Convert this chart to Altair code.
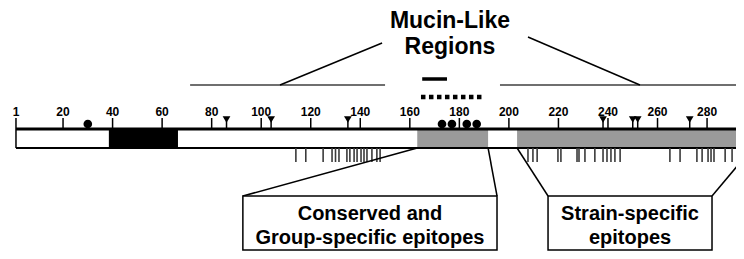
import altair as alt
import pandas as pd

# ---- data (residue positions) ----
tick_labels = [1, 20, 40, 60, 80, 100, 120, 140, 160, 180, 200, 220, 240, 260, 280]
circle_pos = [30, 173, 177, 183, 187]
triangle_pos = [86, 104, 135, 238, 250, 252, 273, 294]
epitope_pos = [114, 118, 125, 128.6, 130, 131.4, 134.6, 135.8, 137.5, 138.7, 140.3,
               141.5, 142.7, 144.7, 146.7, 148,
               207.7, 209.7, 211.4, 219.8, 221.0, 227.5, 228.3, 230.7, 234.7, 238.0,
               239.6, 241.2, 242.8, 244.9, 265.0, 269.1, 275.9, 278.0, 280.4, 281.6,
               282.8, 287.3, 290.1, 292.1]
black_start = [38.5]
black_end = [66.4]
grey_start = [163, 203.3]
grey_end = [191.6, 300]
protein_start = [1]
protein_end = [300]
mucin_solid = [165, 175]
mucin_dotted = [164.5, 190]
bracket_start = [71.3, 196.4]
bracket_end = [150, 300]
mucin_text = ["Mucin-Like", "Regions"]
box_start = [92.6, 215.8]
box_end = [195.2, 282.0]
box_text_1 = ["Conserved and", "Group-specific epitopes"]
box_text_2 = ["Strain-specific", "epitopes"]

# ---- layout (page-pixel units on the y axis) ----
W, H = 728, 243
px_per_res = 2.477
x0 = -5.5 / px_per_res
x1 = (W - 5.5) / px_per_res
xs = alt.Scale(domain=[x0, x1], nice=False, zero=False)
ys = alt.Scale(domain=[8, 8 + H], reverse=True, nice=False, zero=False)
FONT = "Liberation Sans"

Y_TOP, Y_BOT = 129, 148
BOX_TOP, BOX_BOT = 196, 250


def X(f="x"):
    return alt.X(f"{f}:Q", scale=xs, axis=None)


def Y(f="y"):
    return alt.Y(f"{f}:Q", scale=ys, axis=None)


layers = []

# grey regions
grey_df = pd.DataFrame({"x": grey_start, "x2": grey_end, "y": Y_TOP, "y2": Y_BOT})
layers.append(alt.Chart(grey_df).mark_rect(color="#9a9a9a", clip=True).encode(
    x=X(), x2="x2", y=Y(), y2="y2"))
# black region
blk_df = pd.DataFrame({"x": black_start, "x2": black_end, "y": Y_TOP, "y2": Y_BOT})
layers.append(alt.Chart(blk_df).mark_rect(color="black", clip=True).encode(
    x=X(), x2="x2", y=Y(), y2="y2"))
# outline of protein bar
pr_df = pd.DataFrame({"x": protein_start * 2, "x2": protein_end * 2,
                      "y": [Y_TOP, Y_BOT], "w": [3, 2]})
layers.append(alt.Chart(pr_df).mark_rule(color="black", clip=True).encode(
    x=X(), x2="x2", y=Y(),
    strokeWidth=alt.StrokeWidth("w:Q", scale=None, legend=None)))

# scale ticks & labels
tk = pd.DataFrame({"x": tick_labels,
                   "y": 118,
                   "y2": [Y_BOT if v == 1 else Y_TOP for v in tick_labels],
                   "lab": [str(v) for v in tick_labels]})
layers.append(alt.Chart(tk).mark_rule(color="black", strokeWidth=1.5, clip=True).encode(
    x=X(), y=Y(), y2="y2"))
layers.append(alt.Chart(tk).mark_text(font=FONT, fontSize=12, fontWeight="bold",
                                      baseline="bottom", dy=1, clip=True).encode(
    x=X(), y=Y(), text="lab:N"))

# epitope ticks below bar
ep = pd.DataFrame({"x": epitope_pos, "y": Y_BOT, "y2": 162})
layers.append(alt.Chart(ep).mark_rule(color="#3a3a3a", strokeWidth=1.6, clip=True).encode(
    x=X(), y=Y(), y2="y2"))

# triangles with stems
tr = pd.DataFrame({"x": triangle_pos, "y": 119.5, "ys": 121, "y2": Y_TOP})
layers.append(alt.Chart(tr).mark_rule(color="black", strokeWidth=1.5, clip=True).encode(
    x=X(), y=Y("ys"), y2="y2"))
layers.append(alt.Chart(tr).mark_point(shape="triangle-down", filled=True, color="black",
                                       size=60, opacity=1, clip=True).encode(
    x=X(), y=Y()))

# circles
ci = pd.DataFrame({"x": circle_pos, "y": 124})
layers.append(alt.Chart(ci).mark_circle(color="black", size=75, opacity=1, clip=True).encode(
    x=X(), y=Y()))

# mucin-like region markers
ms = pd.DataFrame({"x": [mucin_solid[0]], "x2": [mucin_solid[1]], "y": [79]})
layers.append(alt.Chart(ms).mark_rule(color="black", strokeWidth=3.5).encode(
    x=X(), x2="x2", y=Y()))
md = pd.DataFrame({"x": [mucin_dotted[0]], "x2": [mucin_dotted[1]], "y": [97]})
layers.append(alt.Chart(md).mark_rule(color="black", strokeWidth=4.5,
                                      strokeDash=[4.5, 3.5]).encode(
    x=X(), x2="x2", y=Y()))

# bracket lines
br = pd.DataFrame({"x": bracket_start, "x2": bracket_end, "y": [85, 85]})
layers.append(alt.Chart(br).mark_rule(color="#6f6f6f", strokeWidth=2, clip=True).encode(
    x=X(), x2="x2", y=Y()))
dg = pd.DataFrame({"x": [107.6, 207.7], "y": [85, 37], "x2": [148.8, 252.9], "y2": [43, 85]})
layers.append(alt.Chart(dg).mark_rule(color="black", strokeWidth=1.5).encode(
    x=X(), y=Y(), x2="x2", y2="y2"))

# mucin text
mt = pd.DataFrame({"x": 176.2, "y": [21, 47], "t": mucin_text})
layers.append(alt.Chart(mt).mark_text(font=FONT, fontSize=23, fontWeight="bold",
                                      baseline="middle").encode(
    x=X(), y=Y(), text="t:N"))

# connector lines to boxes
cn = pd.DataFrame({"x": [box_start[0], box_end[0], box_start[1], box_end[1]],
                   "y": BOX_TOP,
                   "x2": [grey_start[0], grey_end[0], grey_start[1], 299],
                   "y2": [Y_BOT, Y_BOT, Y_BOT, 146]})
layers.append(alt.Chart(cn).mark_rule(color="black", strokeWidth=1.5, clip=True).encode(
    x=X(), y=Y(), x2="x2", y2="y2"))

# boxes
bx = pd.DataFrame({"x": box_start, "x2": box_end, "y": BOX_TOP, "y2": BOX_BOT})
layers.append(alt.Chart(bx).mark_rect(fill="white", stroke="black", strokeWidth=1.5).encode(
    x=X(), x2="x2", y=Y(), y2="y2"))

bt = pd.DataFrame({
    "x": [(box_start[0] + box_end[0]) / 2] * 2 + [(box_start[1] + box_end[1]) / 2] * 2,
    "y": [214, 238, 214, 238],
    "t": box_text_1 + box_text_2})
layers.append(alt.Chart(bt).mark_text(font=FONT, fontSize=20, fontWeight="bold",
                                      baseline="middle").encode(
    x=X(), y=Y(), text="t:N"))

chart = alt.layer(*layers).properties(
    width=W, height=H, padding=0,
    autosize=alt.AutoSizeParams(type="none"),
).configure_view(stroke=None)

chart.save("out.html", embed_options={"renderer": "svg", "actions": False})
